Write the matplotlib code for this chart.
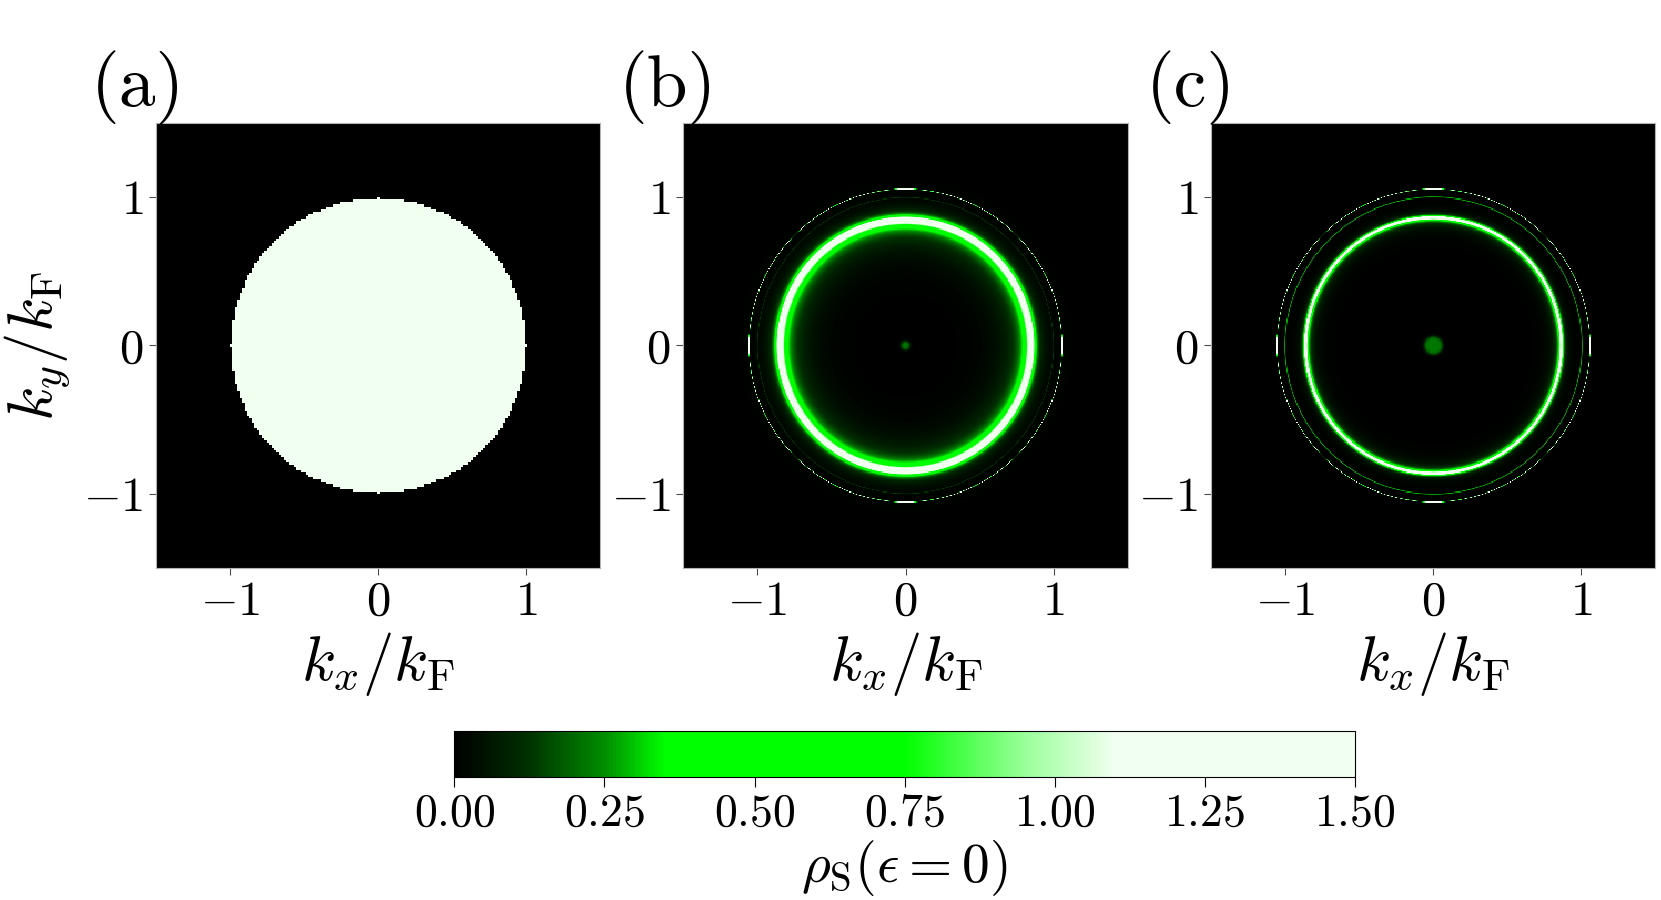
import numpy as np
import matplotlib
matplotlib.use("Agg")
import matplotlib.pyplot as plt
from matplotlib.colors import LinearSegmentedColormap

# colour scale: node values and colours
CMAP_VALUES = [0.0, 0.12, 0.25, 0.35, 0.75, 0.95, 1.1, 1.5]
CMAP_COLORS = ["#000000", "#003000", "#009000", "#00ff00", "#00ff00", "#99ff99", "#f0fff0", "#f0fff0"]
VMIN, VMAX = 0.0, 1.5
CBAR_TICKS = [0.0, 0.25, 0.5, 0.75, 1.0, 1.25, 1.5]

PANEL_LABELS = ["(a)", "(b)", "(c)"]
AXIS_TICKS = [-1, 0, 1]
K_LIMIT = 1.5
GRID_POINTS = [181, 401, 401]

# (a) filled Fermi disk
DISK_RADIUS = 1.0
DISK_VALUE = 1.5

# (b), (c) main ring
RING_RADIUS = [0.852, 0.866]
RING_WIDTH = [0.017, 0.0076]
RING_PEAK = [3.0, 3.0]
# glow inside the ring
GLOW_HEIGHT = [0.22, 0.05]
GLOW_LENGTH = [0.11, 0.05]
# faint side ring
SIDE_RING_RADIUS = [1.00, 1.004]
SIDE_RING_VALUE = [0.12, 0.28]
SIDE_RING_WIDTH = [0.0025, 0.004]
# very thin outer ring, speckled by the k grid
OUTER_RING_RADIUS = [1.058, 1.058]
OUTER_RING_VALUE = [1.5, 1.5]
OUTER_RING_WIDTH = [0.0015, 0.0015]
# central spot
SPOT_RADIUS = [0.03, 0.063]
SPOT_VALUE = [0.22, 0.22]


def k_grid(n):
	k = np.linspace(-K_LIMIT, K_LIMIT, n)
	kx, ky = np.meshgrid(k, k)
	return np.hypot(kx, ky)


def disk_map():
	r = k_grid(GRID_POINTS[0])
	return np.where(r <= DISK_RADIUS, DISK_VALUE, 0.0)


def ring_map(i):
	r = k_grid(GRID_POINTS[i + 1])
	dr = r - RING_RADIUS[i]
	w = np.where(dr < 0, RING_WIDTH[i], 0.7 * RING_WIDTH[i])
	core = RING_PEAK[i] * w ** 2 / (dr ** 2 + w ** 2)
	glow = np.where(dr < 0, GLOW_HEIGHT[i] * np.exp(dr / GLOW_LENGTH[i]), 0.0)
	side = SIDE_RING_VALUE[i] * np.exp(-((r - SIDE_RING_RADIUS[i]) / SIDE_RING_WIDTH[i]) ** 2)
	outer = OUTER_RING_VALUE[i] * np.exp(-((r - OUTER_RING_RADIUS[i]) / OUTER_RING_WIDTH[i]) ** 2)
	spot = SPOT_VALUE[i] / (1 + np.exp((r - SPOT_RADIUS[i]) / 0.006))
	return core + glow + side + outer + spot


def main():
	plt.rcParams["font.family"] = "serif"
	plt.rcParams["font.serif"] = ["cmr10", "DejaVu Serif"]
	plt.rcParams["mathtext.fontset"] = "cm"
	plt.rcParams["axes.formatter.use_mathtext"] = True

	cmap = LinearSegmentedColormap.from_list(
		"rho", list(zip([v / VMAX for v in CMAP_VALUES], CMAP_COLORS))
	)

	fig = plt.figure(figsize=(16.61, 9.0), dpi=100)
	lefts = [155.7, 683.3, 1210.8]
	maps = [disk_map(), ring_map(0), ring_map(1)]

	for i, (left, data) in enumerate(zip(lefts, maps)):
		ax = fig.add_axes([left / 1661, 1 - 567.8 / 900, 444.5 / 1661, 444.9 / 900])
		im = ax.imshow(
			data, origin="lower", cmap=cmap, vmin=VMIN, vmax=VMAX,
			extent=[-K_LIMIT, K_LIMIT, -K_LIMIT, K_LIMIT],
			interpolation="nearest", aspect="auto",
		)
		ax.set_xticks(AXIS_TICKS)
		ax.set_yticks(AXIS_TICKS)
		ax.tick_params(labelsize=35, length=5, width=0.8, color="0.3", pad=4)
		for spine in ax.spines.values():
			spine.set_color("0.7")
			spine.set_linewidth(0.8)
		ax.set_xlabel(r"$k_x/k_{\mathrm{F}}$", fontsize=45, labelpad=4)
		if i == 0:
			ax.set_ylabel(r"$k_y/k_{\mathrm{F}}$", fontsize=45, labelpad=8)
		ax.text(-0.145, 0.995, PANEL_LABELS[i], transform=ax.transAxes,
			fontsize=53, va="bottom", ha="left")

	cax = fig.add_axes([454.4 / 1661, 1 - 776.5 / 900, 900.4 / 1661, 45.6 / 900])
	cbar = fig.colorbar(im, cax=cax, orientation="horizontal", ticks=CBAR_TICKS)
	cbar.ax.xaxis.set_major_formatter(matplotlib.ticker.FormatStrFormatter(r"$\mathdefault{%.2f}$"))
	cbar.ax.tick_params(labelsize=33, length=7, width=0.8, pad=5)
	cbar.outline.set_linewidth(0.8)
	cbar.set_label(r"$\rho_{\mathrm{S}}(\epsilon=0)$", fontsize=40, labelpad=2)

	fig.savefig("out.png", dpi=100)
	plt.close(fig)
	return 0


if __name__ == "__main__":
	raise SystemExit(main())
